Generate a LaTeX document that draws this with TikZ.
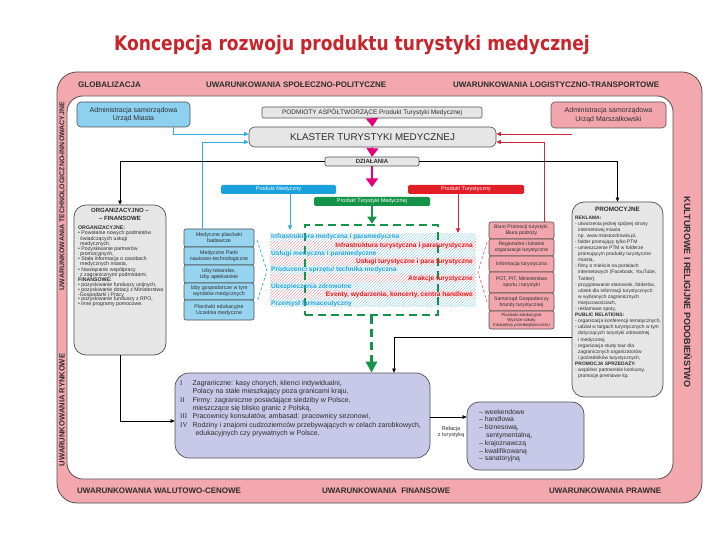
\documentclass[tikz,border=0pt]{standalone}
\usepackage{fontspec}
\setmainfont{Liberation Sans}
\newfontfamily\titlefont{DejaVu Sans}
\newfontfamily\romfont{Liberation Serif}
\usetikzlibrary{arrows.meta,patterns}
\definecolor{bandpink}{RGB}{243,168,173}
\definecolor{framegray}{RGB}{80,80,80}
\definecolor{boxblue}{RGB}{142,208,240}
\definecolor{stackblue}{RGB}{150,212,240}
\definecolor{boxpink}{RGB}{242,166,172}
\definecolor{boxgray}{RGB}{230,230,230}
\definecolor{lav}{RGB}{200,200,232}
\definecolor{pmblue}{RGB}{27,160,222}
\definecolor{ptred}{RGB}{228,30,38}
\definecolor{ptmgreen}{RGB}{20,148,72}
\definecolor{magarr}{RGB}{228,0,125}
\definecolor{titlered}{RGB}{200,36,44}
\definecolor{txtblue}{RGB}{40,168,225}
\definecolor{txtred}{RGB}{226,28,36}
\definecolor{lnblue}{RGB}{50,170,225}
\definecolor{lnred}{RGB}{210,40,60}
\definecolor{hatchblue}{RGB}{160,215,242}
\definecolor{hatchpink}{RGB}{246,170,176}
\definecolor{txtdark}{RGB}{45,45,45}
\begin{document}
\begin{tikzpicture}[x=1pt,y=-1pt,
  box/.style={draw=framegray, line width=0.6pt, rounded corners=3pt, inner sep=0pt, align=center, text=txtdark},
  bigbox/.style={draw=framegray, line width=0.7pt, rounded corners=12pt, inner sep=0pt},
  bar/.style={draw=none, rounded corners=1.5pt, inner sep=0pt, text=white, font=\fontsize{5.5}{6}\selectfont},
  bandtxt/.style={font=\fontsize{8}{9}\selectfont\bfseries, text=txtdark, inner sep=0pt},
  arr/.style={-{Triangle[length=4pt,width=3.5pt]}, line width=0.6pt, black},
  bluearr/.style={-{Triangle[length=4.5pt,width=4pt]}, line width=0.8pt, lnblue},
  redarr/.style={-{Triangle[length=4.5pt,width=4pt]}, line width=0.8pt, lnred},
  magarrow/.style={-{Triangle[length=8.5pt,width=12pt]}, line width=1.4pt, magarr},
  greenarr/.style={-{Triangle[length=7pt,width=9pt]}, line width=2pt, ptmgreen},
  bluetxt/.style={anchor=west, inner sep=0pt, text=txtblue, font=\fontsize{6.6}{7}\selectfont\bfseries},
  redtxt/.style={anchor=east, inner sep=0pt, text=txtred, font=\fontsize{6.6}{7}\selectfont\bfseries},
  stk/.style={box, rounded corners=2pt, minimum width=70pt, font=\fontsize{5.3}{6}\selectfont},
  stkr/.style={box, rounded corners=2pt, minimum width=65pt, fill=boxpink, font=\fontsize{5.1}{5.8}\selectfont}
]
\useasboundingbox (0,0) rectangle (720,540);
\fill[white] (0,0) rectangle (720,540);

% title
\node[inner sep=0pt, text=titlered] (title) at (352,45) {\scalebox{0.855}[1]{\titlefont\fontsize{20}{24}\selectfont\bfseries Koncepcja rozwoju produktu turystyki medycznej}};

% frame
\filldraw[fill=bandpink, draw=framegray, line width=0.8pt, rounded corners=20pt] (57,72) rectangle (702,503);
\filldraw[fill=white, draw=framegray, line width=0.8pt, rounded corners=16pt] (67,96) rectangle (673,479);

\node[bandtxt, anchor=west] (g1) at (78,85) {GLOBALIZACJA};
\node[bandtxt, anchor=west] (g2) at (206,85) {UWARUNKOWANIA SPOŁECZNO-POLITYCZNE};
\node[bandtxt, anchor=west] (g3) at (453,85) {UWARUNKOWANIA LOGISTYCZNO-TRANSPORTOWE};
\node[bandtxt, anchor=west] (b1t) at (77,491) {UWARUNKOWANIA WALUTOWO-CENOWE};
\node[bandtxt, anchor=west] (b2t) at (322,491) {UWARUNKOWANIA\ \ FINANSOWE};
\node[bandtxt, anchor=west] (b3t) at (549,491) {UWARUNKOWANIA PRAWNE};
\node[bandtxt, font=\fontsize{7}{8}\selectfont\bfseries, rotate=90] (l1t) at (62,196) {UWARUNKOWANIA TECHNOLOGICZNO-INNOWACYJNE};
\node[bandtxt, font=\fontsize{7.6}{8}\selectfont\bfseries, rotate=90] (l2t) at (62,410) {UWARUNKOWANIA RYNKOWE};
\node[bandtxt, font=\fontsize{9}{9}\selectfont\bfseries, rotate=-90] (r1t) at (688,292) {KULTUROWE I RELIGIJNE PODOBIEŃSTWO};

% top boxes
\node[box, fill=boxblue, rounded corners=4pt, minimum width=113pt, minimum height=25pt, font=\fontsize{7}{8.5}\selectfont] (um) at (133.5,114.5) {Administracja samorządowa\\Urząd Miasta};
\node[box, fill=boxpink, rounded corners=4pt, minimum width=115pt, minimum height=26pt, font=\fontsize{7}{8.5}\selectfont] (umar) at (608.5,115) {Administracja samorządowa\\Urząd Marszałkowski};
\node[box, fill=boxgray, rounded corners=2pt, minimum width=220pt, minimum height=11pt, font=\fontsize{6.5}{7}\selectfont] (podm) at (372,112.5) {PODMIOTY ASPÓŁTWORZĄCE Produkt Turystyki Medycznej};
\node[box, fill=boxgray, rounded corners=6pt, minimum width=247pt, minimum height=20pt, font=\fontsize{9.8}{11}\selectfont] (klaster) at (372.5,137) {KLASTER TURYSTYKI MEDYCZNEJ};
\node[box, fill=boxgray, rounded corners=2pt, minimum width=94pt, minimum height=9pt, font=\fontsize{6}{7}\selectfont\bfseries] (dz) at (372,161.5) {DZIAŁANIA};

% product bars
\node[bar, fill=pmblue, minimum width=115pt, minimum height=9pt] (pm) at (278.5,189.5) {Produkt Medyczny};
\node[bar, fill=ptred, minimum width=116pt, minimum height=9pt] (pt) at (466,189.5) {Produkt Turystyczny};
\node[bar, fill=ptmgreen, minimum width=116pt, minimum height=9pt] (ptm) at (372,201.5) {Produkt Turystyki Medycznej};

% hatched bands
\foreach \yy/\cc in {233/hatchblue,241.2/hatchpink,249.4/hatchblue,257.6/hatchpink,265.8/hatchblue,274/hatchpink,282.2/hatchblue,290.4/hatchpink,298.6/hatchblue}{
  \fill[pattern=north east lines, pattern color=\cc] (270,\yy) rectangle (476,\yy+8.2);
}
\node[draw=ptmgreen, dash pattern=on 8pt off 5pt, line width=2.6pt, minimum width=133pt, minimum height=90pt, inner sep=0pt] (pbox) at (371.5,270) {};

\node[bluetxt] (tb1) at (271,237) {Infrastruktura medyczna i paramedyczna};
\node[redtxt] (tr1) at (473,245.3) {Infrastruktura turystyczna i paraturystyczna};
\node[bluetxt] (tb2) at (271,253.6) {Usługi medyczne i paramedyczne};
\node[redtxt] (tr2) at (473,261.9) {Usługi turystyczne i para turystyczne};
\node[bluetxt] (tb3) at (271,270.2) {Producenci sprzętu/ technika medyczna};
\node[redtxt] (tr3) at (473,278.5) {Atrakcje turystyczne};
\node[bluetxt] (tb4) at (271,286.8) {Ubezpieczenia zdrowotne};
\node[redtxt] (tr4) at (473,295.1) {Eventy, wydarzenia, koncerty, centra handlowe};
\node[bluetxt] (tb5) at (271,303.4) {Przemysł farmaceutyczny};

% medical stack
\node[stk, fill=stackblue, minimum height=18pt] (med1) at (219,238) {Medyczne placówki\\badawcze};
\node[stk, fill=stackblue, minimum height=18pt] (med2) at (219,256) {Medyczne Parki\\naukowo-technologiczne};
\node[stk, fill=stackblue, minimum height=18pt] (med3) at (219,274) {Izby lekarskie,\\Izby aptekarskie};
\node[stk, fill=stackblue, minimum height=17pt] (med4) at (219,291.5) {Izby gospodarcze w tym\\wyrobów medycznych};
\node[stk, fill=stackblue, minimum height=20pt] (med5) at (219,310) {Placówki edukacyjne\\Uczelnia medyczne};

% tourism stack
\node[stkr, minimum height=17pt] (bi1) at (521.5,230.5) {Biuro Promocji turystyki.\\Biura podróży};
\node[stkr, minimum height=17pt] (bi2) at (521.5,247.5) {Regionalne i lokalne\\organizacje turystyczne};
\node[stkr, minimum height=16pt] (bi3) at (521.5,264) {Informacja turystyczna};
\node[stkr, minimum height=21pt] (bi4) at (521.5,282.5) {POT, PIT, Ministerstwo\\sportu i turystyki};
\node[stkr, minimum height=18pt] (bi5) at (521.5,302) {Samorząd Gospodarczy\\branży turystycznej};
\node[stkr, minimum height=18pt, font=\fontsize{4.3}{4.9}\selectfont] (bi6) at (521.5,320) {Placówki edukacyjne\\Wyższe szkoły\\Inkubatory przedsiębiorczości};

% dashed brackets
\draw[lnblue, line width=0.7pt, dash pattern=on 3pt off 2pt] (257,240) -- (267,271) -- (257,302);
\draw[lnred!70, line width=0.7pt, dash pattern=on 3pt off 2pt] (487,242) -- (478,272) -- (487,302);

% ORG box
\node[bigbox, fill=boxgray, minimum width=92pt, minimum height=150pt] (org) at (120,280) {};
\node[inner sep=0pt, align=center, text=txtdark, font=\fontsize{6}{8}\selectfont\bfseries] (orgt) at (120,214) {ORGANIZACYJNO --\\-- FINANSOWE};
\node[inner sep=0pt, align=left, anchor=north west, text=txtdark, font=\fontsize{5.2}{4.9}\selectfont] (orgb) at (78,225.5) {\textbf{ORGANIZACYJNE:}\\
• Powołanie nowych podmiotów\\
\hspace*{2pt}świadczących usługi\\
\hspace*{2pt}medycznych.\\
• Pozyskiwanie partnerów\\
\hspace*{2pt}promocyjnych,\\
• Stała informacja o zasobach\\
\hspace*{2pt}medycznych miasta,\\
• Nawiązanie współpracy\\
\hspace*{2pt}z zagranicznymi podmiotami,\\
\textbf{FINANSOWE:}\\
• pozyskiwanie funduszy unijnych,\\
• pozyskiwanie dotacji z Ministerstwa\\
-Gospodarki i Pracy\\
• pozyskiwanie funduszy z RPO,\\
• inne programy pomocowe.};

% PROMO box
\node[bigbox, fill=boxgray, minimum width=91pt, minimum height=195pt] (promo) at (617.5,299.5) {};
\node[inner sep=0pt, text=txtdark, font=\fontsize{6.3}{7}\selectfont\bfseries] (promot) at (617.5,209) {PROMOCYJNE};
\node[inner sep=0pt, align=left, anchor=north west, text=txtdark, font=\fontsize{4.9}{6.1}\selectfont] (promob) at (575,215.5) {\textbf{REKLAMA:}\\
- utworzenia jednej spójnej strony\\
\hspace*{3pt}internetowej miasta\\
\hspace*{3pt}np. www.miastozdrowia.pl,\\
- folder promujący tylko PTM\\
- umieszczenie PTM w folderze\\
\hspace*{3pt}promującym produkty turystyczne\\
\hspace*{3pt}miasta,\\
- filmy o mieście na portalach\\
\hspace*{3pt}internetowych (Facebook, YouTube,\\
\hspace*{3pt}Twitter),\\
- przygotowanie stanowisk, folderów,\\
\hspace*{3pt}ulotek dla informacji turystycznych\\
\hspace*{3pt}w wybranych zagranicznych\\
\hspace*{3pt}miejscowościach,\\
- reklamowe spoty,\\
\textbf{PUBLIC RELATIONS:}\\
- organizacja konferencji tematycznych,\\
- udział w targach turystycznych w tym\\
\hspace*{3pt}dotyczących turystyki zdrowotnej\\
\hspace*{3pt}i medycznej,\\
- organizacja study tour dla\\
\hspace*{3pt}zagranicznych organizatorów\\
\hspace*{3pt}i pośredników turystycznych,\\
\textbf{PROMOCJA SPRZEDAŻY:}\\
- wspólne/ partnerskie konkursy,\\
\hspace*{3pt}promocje premiowe itp.};

% purple box
\node[bigbox, fill=lav, rounded corners=14pt, minimum width=255pt, minimum height=85pt] (purple) at (302.5,415.5) {};
\node[inner sep=0pt, anchor=north west, text=txtdark, font=\fontsize{7}{8.3}\selectfont] (purpleb) at (180,379.5) {\begin{tabular}{@{}l@{\hspace{5pt}}l@{}}
{\romfont I} & Zagraniczne: kasy chorych, klienci indywidualni,\\
 & Polacy na stałe mieszkający poza granicami kraju,\\
{\romfont II} & Firmy: zagraniczne posiadające siedziby w Polsce,\\
 & mieszczące się blisko granic z Polską,\\
{\romfont III} & Pracownicy konsulatów, ambasad: pracownicy sezonowi,\\
{\romfont IV} & Rodziny i znajomi cudzoziemców przebywających w celach zarobkowych,\\
 & \hspace*{3pt}edukacyjnych czy prywatnych w Polsce,
\end{tabular}};

% weekend box
\node[bigbox, fill=lav, minimum width=117pt, minimum height=68pt] (week) at (525.5,436) {};
\node[inner sep=0pt, align=left, anchor=north west, text=txtdark, font=\fontsize{6.8}{7.8}\selectfont] (weekb) at (479,409) {-- weekendowe\\-- handlowa\\-- biznesową,\\\hspace*{7pt}sentymentalną,\\-- krajoznawczą\\-- kwalifikowaną\\-- sanatoryjną};
\node[inner sep=0pt, align=center, text=txtdark, font=\fontsize{5.5}{6.2}\selectfont] (rel) at (451,432) {Relacja\\z turystyką};

% connectors
\draw[magarrow] (podm.south) -- (klaster.north);
\draw[magarrow] (klaster.south) -- (dz.north);
\coordinate (mend) at (372,187);
\draw[magarrow] (dz.south) -- (mend);

\coordinate (k1) at (0,134);
\coordinate (k2) at (0,142);
\coordinate (ux) at (173,0);
\coordinate (mx) at (202,0);
\coordinate (rx) at (544,0);
\coordinate (rmx) at (572,134);
\draw[bluearr] (um.south -| ux) |- (klaster.west |- k1);
\draw[bluearr] (med1.north -| mx) |- (klaster.west |- k2);
\draw[redarr] (rmx) -- (klaster.east |- k1);
\draw[redarr] (bi1.north -| rx) |- (klaster.east |- k2);

\draw[arr] (dz.west) -| (org.north);
\draw[arr] (dz.east) -| (promo.north);

\coordinate (pmend) at (290,230);
\coordinate (ptend) at (458,233);
\draw[bluearr, line width=1pt] (pm.south -| pmend) -- (pmend);
\draw[redarr, line width=1pt] (pt.south -| ptend) -- (ptend);
\draw[greenarr] (ptm.south) -- (ptm.south |- pbox.north);
\draw[-{Triangle[length=11pt,width=11pt]}, ptmgreen, line width=2.6pt, dash pattern=on 8pt off 5pt] (pbox.south) -- (pbox.south |- purple.north);

\coordinate (oy) at (0,421);
\draw[arr] (org.south) |- (purple.west |- oy);
\coordinate (pj) at (394,337);
\draw[arr] (promo.west |- pj) -| (purple.north -| pj);
\coordinate (ry) at (0,417);
\draw[arr] (purple.east |- ry) -- (week.west |- ry);
\end{tikzpicture}
\end{document}
